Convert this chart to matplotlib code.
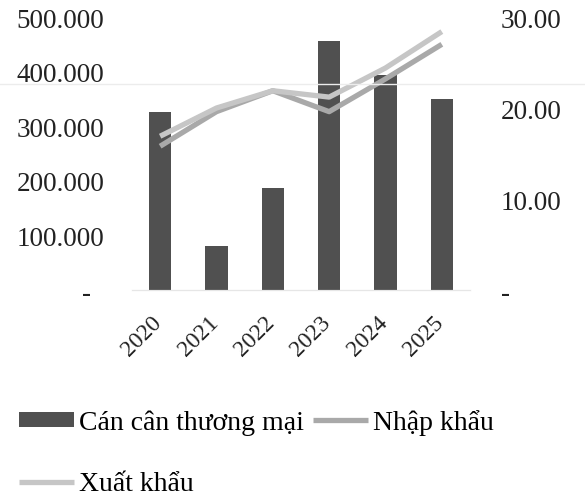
import matplotlib.pyplot as plt
from matplotlib.lines import Line2D
from matplotlib.transforms import ScaledTranslation

plt.rcParams['font.family'] = ['Liberation Serif', 'DejaVu Serif']

years = ['2020', '2021', '2022', '2023', '2024', '2025']
can_can = [326000, 81000, 187000, 456000, 394000, 350000]
nhap_khau = [15.8, 19.6, 21.9, 19.6, 23.2, 27.0]
xuat_khau = [16.9, 20.0, 21.9, 21.2, 24.4, 28.4]

left_ticks = [0, 100000, 200000, 300000, 400000, 500000]
left_labels = ['-  ', '100.000', '200.000', '300.000', '400.000', '500.000']
right_ticks = [0, 10, 20, 30]
right_labels = ['-', '10.00', '20.00', '30.00']

fig = plt.figure(figsize=(5.85, 5.02), dpi=100)
ax = fig.add_axes([0.2256, 0.4203, 0.5778, 0.5438])
ax2 = ax.twinx()

x = range(len(years))
bars = ax.bar(x, can_can, width=0.4, color='#505050', zorder=2)
ax.set_ylim(0, 500000)
ax.set_xlim(-0.5, len(years) - 0.5)
ax.set_yticks(left_ticks)
ax.set_yticklabels(left_labels)
ax.set_xticks(list(x))
ax.set_xticklabels(years, rotation=45, ha='right', fontsize=17)

ln_nk, = ax2.plot(x, nhap_khau, color='#a9a9a9', lw=3.8, solid_capstyle='butt', zorder=3)
ln_xk, = ax2.plot(x, xuat_khau, color='#c6c6c6', lw=3.8, solid_capstyle='butt', zorder=3)
ax2.set_ylim(0, 30)
ax2.set_yticks(right_ticks)
ax2.set_yticklabels(right_labels)

for a in (ax, ax2):
    for side in ('top', 'left', 'right'):
        a.spines[side].set_visible(False)
    a.spines['bottom'].set_color('#e6e6e6')
    a.tick_params(length=0, colors='#222222')
    a.tick_params(axis='y', labelsize=19.5)
ax.tick_params(axis='y', pad=20)
ax.tick_params(axis='x', pad=15.5)
ax2.tick_params(axis='y', pad=22)

# nudge the rotated year labels a little to the right of their ticks
shift = ScaledTranslation(6 / 100, 0, fig.dpi_scale_trans)
for lab in ax.get_xticklabels():
    lab.set_transform(lab.get_transform() + shift)

# faint horizontal rule running across the page
fig.add_artist(Line2D([0, 1], [1 - 85 / 502, 1 - 85 / 502], color='#ececec', lw=1))

handles = [bars, ln_xk, ln_nk]
labels = ['Cán cân thương mại', 'Xuất khẩu', 'Nhập khẩu']
fig.legend(handles, labels, ncol=2, loc='upper left', bbox_to_anchor=(0.032, 0.183),
           frameon=False, fontsize=20, handlelength=2.0, handleheight=0.45,
           handletextpad=0.18, columnspacing=0.3, labelspacing=1.3, borderaxespad=0,
           borderpad=0)

fig.savefig('out.png', dpi=100)
